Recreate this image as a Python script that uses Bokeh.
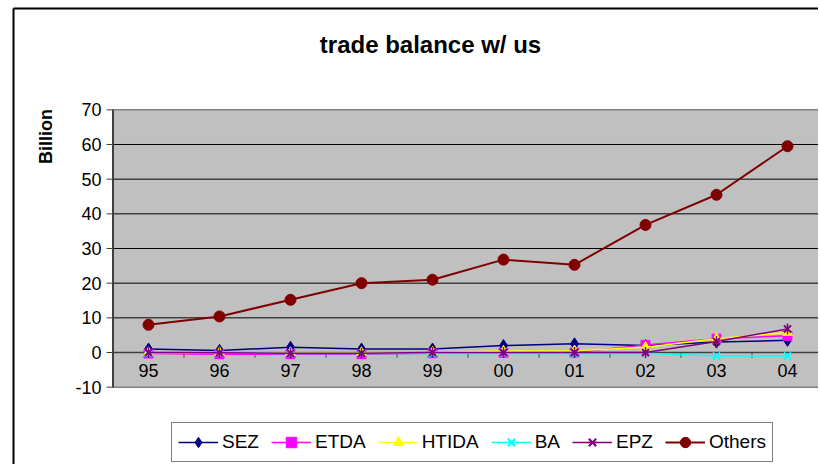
import math
from bokeh.plotting import figure
from bokeh.models import Range1d, Legend, LegendItem
from bokeh.embed import file_html
from bokeh.resources import INLINE
from bokeh.core.properties import value

# ---- data ----
years = ["95", "96", "97", "98", "99", "00", "01", "02", "03", "04"]
sez = [1.0, 0.6, 1.5, 1.0, 1.0, 2.0, 2.5, 2.0, 3.0, 3.5]
etda = [-0.3, -0.5, -0.5, -0.5, -0.2, -0.1, 0.0, 2.2, 4.0, 4.8]
htida = [0.0, 0.0, 0.0, 0.0, 0.1, 0.4, 0.5, 1.5, 4.0, 5.8]
ba = [-0.2, -0.2, -0.3, -0.3, -0.3, -0.3, -0.3, -0.2, -1.0, -1.0]
epz = [0.0, -0.1, -0.2, -0.2, 0.0, 0.0, 0.0, 0.0, 3.2, 6.8]
others = [8.0, 10.4, 15.2, 20.0, 21.0, 26.8, 25.3, 36.8, 45.5, 59.5]
y_ticks = [-10, 0, 10, 20, 30, 40, 50, 60, 70]

FONT = "Liberation Sans"
idx = list(range(len(years)))

# ---- layout (pixels) ----
W, H = 818, 464
PX0, DX = 148.0, 71.0          # pixel x of first category, category step
PY0, DY = 352.0, 3.4667        # pixel y of value 0, pixels per unit


def X(px):
    return (px - PX0) / DX


def Y(py):
    return (PY0 - py) / DY


p = figure(width=W, height=H,
           x_range=Range1d(X(0), X(W)), y_range=Range1d(Y(H), Y(0)),
           x_axis_location=None, y_axis_location=None,
           output_backend="svg", toolbar_location=None,
           min_border=0, min_border_left=0, min_border_right=0,
           min_border_top=0, min_border_bottom=0)
p.title.visible = False
p.outline_line_color = None
p.background_fill_color = "white"
p.border_fill_color = "white"
p.xgrid.visible = False
p.ygrid.visible = False

x_lo, x_hi = idx[0] - 0.5, X(W + 6)
y_lo, y_hi = y_ticks[0], y_ticks[-1]

# chart outer border (left and top)
p.segment(x0=[X(13), X(13)], y0=[Y(8), Y(8)], x1=[X(13), X(W + 6)], y1=[Y(H + 6), Y(8)],
          line_color="black", line_width=2)

# plot area
p.quad(left=[x_lo], right=[x_hi], bottom=[y_lo], top=[y_hi],
       fill_color="#C0C0C0", line_color="#808080", line_width=1.5)

# grid lines
grid = y_ticks[2:-1]
p.segment(x0=[x_lo] * len(grid), y0=grid, x1=[x_hi] * len(grid), y1=grid,
          line_color="black", line_width=1)

# zero (category) axis
p.segment(x0=[x_lo], y0=[0], x1=[x_hi], y1=[0], line_color="#404040", line_width=1.5)
bounds = [i + 0.5 for i in idx[:-1]]
p.segment(x0=bounds, y0=[0] * len(bounds), x1=bounds, y1=[-1.5] * len(bounds),
          line_color="#404040", line_width=1)
p.text(x=idx, y=[-5.2] * len(idx), text=years, text_align="center",
       text_baseline="middle", text_font=value(FONT), text_font_size="18px",
       text_color="black")

# value axis
p.segment(x0=[x_lo], y0=[y_lo], x1=[x_lo], y1=[y_hi], line_color="#404040", line_width=2)
p.segment(x0=[X(106)] * len(y_ticks), y0=y_ticks, x1=[x_lo] * len(y_ticks), y1=y_ticks,
          line_color="#404040", line_width=1)
p.text(x=[X(101)] * len(y_ticks), y=y_ticks, text=[str(t) for t in y_ticks],
       text_align="right", text_baseline="middle", text_font=value(FONT),
       text_font_size="18px", text_color="black")

# titles
p.text(x=[X(430)], y=[Y(44)], text=["trade balance w/ us"], text_align="center",
       text_baseline="middle", text_font=value(FONT), text_font_size="24px",
       text_font_style="bold", text_color="black")
p.text(x=[X(45)], y=[Y(136)], text=["Billion"], angle=math.pi / 2, text_align="center",
       text_baseline="middle", text_font=value(FONT), text_font_size="18px",
       text_font_style="bold", text_color="black")

# series
items = []


def series(name, ys, color, marker, size, lw=1.5, extra=None):
    rs = [p.line(idx, ys, line_color=color, line_width=lw)]
    rs.append(p.scatter(idx, ys, marker=marker, size=size, fill_color=color,
                        line_color=color, line_width=2 if marker == "x" else 1))
    if extra:
        rs.extend(extra())
    items.append(LegendItem(label=name, renderers=rs))


series("SEZ", sez, "#000080", "diamond", 12)
series("ETDA", etda, "#FF00FF", "square", 9)
series("HTIDA", htida, "#FFFF00", "triangle", 10)
series("BA", ba, "#00FFFF", "x", 10)
series("EPZ", epz, "#800080", "x", 10,
       extra=lambda: [p.scatter(idx, epz, marker="dash", angle=math.pi / 2, size=11,
                                line_color="#800080", line_width=1.5)])
series("Others", others, "#800000", "circle", 11, lw=2)

legend = Legend(items=items, orientation="horizontal", location=(171, 2))
legend.border_line_color = "black"
legend.border_line_width = 1
legend.background_fill_color = "white"
legend.background_fill_alpha = 1
legend.label_text_font = FONT
legend.label_text_font_size = "19px"
legend.label_text_color = "black"
legend.glyph_width = 40
legend.glyph_height = 26
legend.spacing = 12
legend.label_standoff = 4
legend.padding = 6
legend.margin = 0
p.add_layout(legend)

open("out.html", "w").write(file_html(p, INLINE))
